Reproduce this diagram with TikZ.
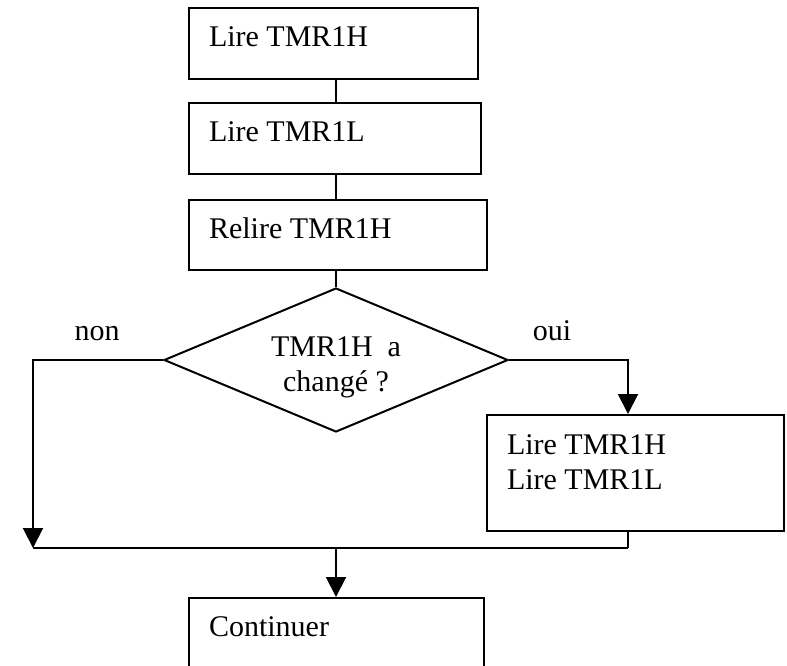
\documentclass[tikz,border=0pt]{standalone}
\usepackage{fontspec}
\setmainfont{Liberation Serif}
\usetikzlibrary{shapes.geometric,arrows.meta}
\tikzstyle{flowText}=[font=\fontsize{15}{17.5}\selectfont]
\tikzstyle{stepBox}=[flowText, shape = rectangle, draw, anchor = north west, align = flush left, inner xsep = 10pt, inner ysep = 0pt, text height = 19pt, text depth = 16.5pt]
\tikzstyle{testShape}=[flowText, shape = diamond, draw, aspect = 2.39, inner sep = 0pt, minimum width = 172pt, minimum height = 72pt, align = flush center, text width = 80pt, text height = 17.5pt, text depth = 21pt]
\tikzstyle{flowArrow}=[-{Triangle[width = 10pt, length = 10pt]}]

\begin{document}
\begin{tikzpicture}[x = 0.5pt, y = -0.5pt, line width = 1pt]
\useasboundingbox (0,0) rectangle (787,665);
% boxes of the main column
\node[stepBox, text width = 124.5pt] (lireH) at (188,7) {Lire TMR1H};
\node[stepBox, text width = 126pt] (lireL) at (188,102) {Lire TMR1L};
\node[stepBox, text width = 129pt, text depth = 16pt] (relireH) at (188,199) {Relire TMR1H};
\node[testShape] (testH) at (336,360) {TMR1H\ \ a\\changé ?};
\node[stepBox, text width = 128.5pt, text height = 19.5pt, text depth = 38.5pt] (lireBoth) at (486,414) {Lire TMR1H\\Lire TMR1L};
\node[stepBox, text width = 127.5pt, text depth = 20pt] (continuer) at (188,597) {Continuer};
\node[flowText, anchor = base] (nonLabel) at (97,340) {non};
\node[flowText, anchor = base] (ouiLabel) at (552,340) {oui};
% joints
\coordinate (rX) at (628,0);
\coordinate (mL) at (33,548);
\coordinate (mR) at (628,548);
\draw (lireH.south -| testH.north) -- (lireL.north -| testH.north);
\draw (lireL.south -| testH.north) -- (relireH.north -| testH.north);
\draw (relireH.south -| testH.north) -- (testH.north);
\draw[flowArrow] (testH.west) -| (mL);
\draw[flowArrow] (testH.east) -| (lireBoth.north -| rX);
\draw (lireBoth.south -| rX) -- (mR);
\draw (mL) -- (mR);
\draw[flowArrow] (mL -| testH.south) -- (continuer.north -| testH.south);
\end{tikzpicture}
\end{document}
